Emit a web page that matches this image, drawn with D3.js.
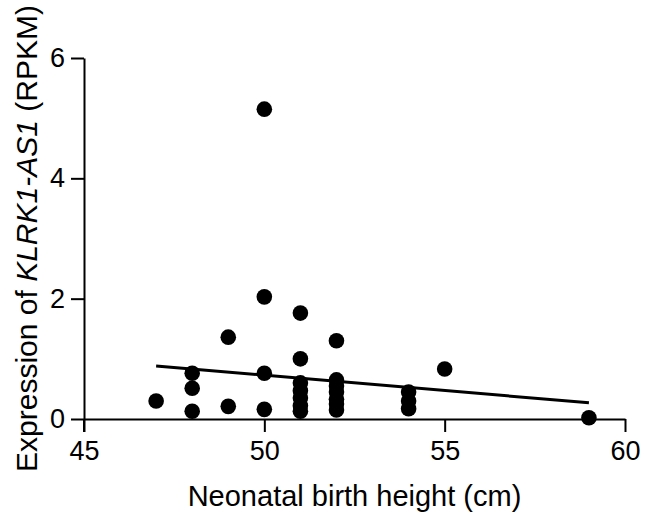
<!DOCTYPE html>
<html>
<head>
<meta charset="utf-8">
<script src="https://cdn.jsdelivr.net/npm/d3@7"></script>
<style>
  body { margin: 0; background: #fff; }
  text { font-family: "Liberation Sans", Arial, sans-serif; fill: #000; }
</style>
</head>
<body>
<svg id="chart" width="645" height="523"></svg>
<script>
// birth height (cm) and expression (RPKM), one entry per sample
var heights = [47, 48, 48, 48, 49, 49, 50, 50, 50, 50,
               51, 51, 51, 51, 51, 51, 51,
               52, 52, 52, 52, 52, 52, 52,
               54, 54, 54, 55, 59];
var expression = [0.30, 0.76, 0.51, 0.13, 1.36, 0.21, 5.15, 2.03, 0.76, 0.16,
                  1.76, 1.00, 0.60, 0.47, 0.35, 0.22, 0.13,
                  1.30, 0.65, 0.55, 0.45, 0.33, 0.25, 0.15,
                  0.45, 0.30, 0.17, 0.83, 0.02];

// regression line ends
var fitX = [47, 59];
var fitY = [0.88, 0.27];

var xTicks = [45, 50, 55, 60];
var yTicks = [0, 2, 4, 6];

var svg = d3.select("#chart");
var margin = { left: 84, top: 58, right: 20, bottom: 104 };
var width = 645 - margin.left - margin.right,
    height = 523 - margin.top - margin.bottom;

var x = d3.scaleLinear().domain([45, 60]).range([0, 541]);
var y = d3.scaleLinear().domain([0, 6]).range([height, 0]);

var g = svg.append("g")
    .attr("transform", "translate(" + margin.left + "," + margin.top + ")");

// axes
var xAxis = g.append("g")
    .attr("transform", "translate(0," + height + ")")
    .call(d3.axisBottom(x).tickValues(xTicks).tickFormat(d3.format("d"))
        .tickSize(13).tickSizeOuter(0).tickPadding(9));

var yAxis = g.append("g")
    .call(d3.axisLeft(y).tickValues(yTicks).tickFormat(d3.format("d"))
        .tickSize(13).tickSizeOuter(0).tickPadding(6));

[xAxis, yAxis].forEach(function (a) {
    a.select(".domain").attr("stroke", "#000").attr("stroke-width", 2);
    a.selectAll(".tick line").attr("stroke", "#000").attr("stroke-width", 2);
    a.selectAll(".tick text")
        .style("font-size", "27px")
        .style("font-family", "Liberation Sans, Arial, sans-serif")
        .attr("fill", "#000");
});
xAxis.selectAll(".tick text").style("text-anchor", "middle");
yAxis.selectAll(".tick text").style("text-anchor", "end");

// y axis line runs down past the x axis like the tick at 45
g.append("line")
    .attr("x1", x(45)).attr("x2", x(45))
    .attr("y1", height).attr("y2", height + 13)
    .attr("stroke", "#000").attr("stroke-width", 2);

// points
var pts = heights.map(function (h, i) { return { h: h, v: expression[i] }; });
g.selectAll(".dot")
    .data(pts)
    .enter().append("circle")
    .attr("class", "dot")
    .attr("cx", function (d) { return x(d.h); })
    .attr("cy", function (d) { return y(d.v); })
    .attr("r", 7.8)
    .attr("fill", "#000");

// fit line
g.append("path")
    .datum(fitX.map(function (v, i) { return [v, fitY[i]]; }))
    .attr("fill", "none")
    .attr("stroke", "#000")
    .attr("stroke-width", 3)
    .attr("d", d3.line()
        .x(function (d) { return x(d[0]); })
        .y(function (d) { return y(d[1]); }));

// axis titles
svg.append("text")
    .attr("x", margin.left + 541 / 2)
    .attr("y", 506)
    .style("text-anchor", "middle")
    .style("font-size", "29px")
    .text("Neonatal birth height (cm)");

var yt = svg.append("text")
    .attr("transform", "translate(37," + (margin.top + height / 2) + ") rotate(-90)")
    .style("text-anchor", "middle")
    .style("font-size", "30px");
yt.append("tspan").text("Expression of ");
yt.append("tspan").style("font-style", "italic").text("KLRK1-AS1");
yt.append("tspan").text(" (RPKM)");
</script>
</body>
</html>
